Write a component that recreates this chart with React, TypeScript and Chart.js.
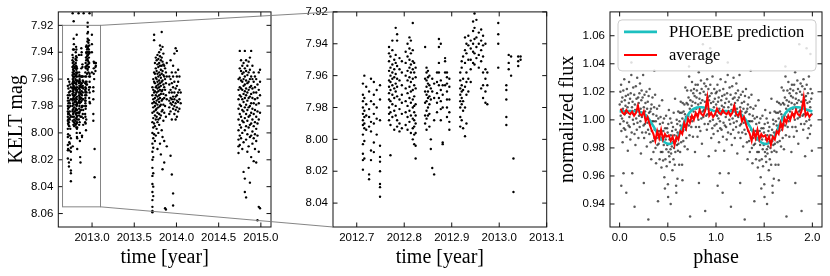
import React, { useEffect, useRef } from 'react';
import { Chart, registerables } from 'chart.js';
Chart.register(...registerables);

// ---------------- DATA ----------------
// KELT light curve, first season (also shown in the zoomed middle panel): [time, [mags...]]
const season1: [number, number[]][] = [
  [2012.713, [7.965, 7.972, 7.976, 7.980, 7.984, 7.988, 7.991, 7.997, 8.003, 8.009, 8.013, 8.019]],
  [2012.716, [7.960, 7.974, 7.982, 7.986, 7.990, 7.993, 8.001, 8.012]],
  [2012.720, [7.967, 7.978, 7.985, 7.994]],
  [2012.726, [7.970, 7.981, 7.986, 7.992, 8.022, 8.025]],
  [2012.730, [7.962, 7.976, 7.989, 7.995, 8.007, 8.013]],
  [2012.736, [7.964, 7.972, 7.978, 7.984, 7.990, 8.002, 8.008]],
  [2012.742, [7.969, 7.980, 7.987, 7.997]],
  [2012.749, [7.966, 7.975, 7.988, 8.004, 8.011, 8.014, 8.020, 8.028, 8.030, 8.036]],
  [2012.768, [7.942, 7.946, 7.951, 7.957, 7.963, 7.967, 7.971, 7.975, 7.980, 7.984, 7.988]],
  [2012.770, [7.911]],
  [2012.771, [7.948, 7.955, 7.960, 7.964, 7.969, 7.976, 7.983, 7.991, 8.010]],
  [2012.775, [7.938, 7.944, 7.953, 7.958, 7.962, 7.966, 7.972, 7.978, 7.986]],
  [2012.779, [7.950, 7.956, 7.961, 7.968, 7.974, 7.982, 7.994]],
  [2012.782, [7.917, 7.930, 7.947, 7.952, 7.959, 7.965, 7.970, 7.979, 7.985]],
  [2012.785, [7.934, 7.938, 7.954, 7.962, 7.967, 7.973, 7.988, 7.992]],
  [2012.790, [7.949, 7.956, 7.963, 7.975, 7.981, 7.990, 7.995]],
  [2012.795, [7.951, 7.958, 7.966, 7.972, 7.977, 7.984, 7.993]],
  [2012.803, [7.945, 7.952, 7.960, 7.968, 7.976, 7.983, 7.991]],
  [2012.807, [7.940, 7.948, 7.957, 7.963, 7.971, 7.979, 7.986, 7.994]],
  [2012.811, [7.936, 7.943, 7.950, 7.955, 7.961, 7.967, 7.974, 7.982, 7.989]],
  [2012.814, [7.938, 7.946, 7.953, 7.958, 7.964, 7.970, 7.977, 7.985, 7.996]],
  [2012.818, [7.927, 7.944, 7.951, 7.956, 7.962, 7.969, 7.975, 7.980, 7.987, 7.993, 8.000]],
  [2012.821, [7.952, 7.958, 7.966, 7.973, 7.979, 7.983, 7.988, 7.992, 7.997, 8.003]],
  [2012.824, [7.955, 7.961, 7.968, 7.978, 7.985, 7.990, 7.996, 8.004, 8.012]],
  [2012.840, [7.911]],
  [2012.844, [7.942, 7.962, 7.970, 7.977, 7.985, 7.990]],
  [2012.847, [7.955, 7.958, 7.963, 7.967, 7.972, 7.976, 7.982, 7.987, 7.994]],
  [2012.850, [7.957, 7.961, 7.965, 7.970, 7.974, 7.980, 7.985]],
  [2012.853, [7.960, 7.966, 7.973, 7.978, 7.984, 7.992]],
  [2012.856, [7.968, 7.975, 8.000, 8.006]],
  [2012.859, [7.962, 7.970, 8.018]],
  [2012.863, [7.965, 7.974, 7.988, 8.022]],
  [2012.869, [7.958, 7.964, 7.971, 7.977, 7.983]],
  [2012.873, [7.937, 7.942, 7.952, 7.958, 7.966, 7.974]],
  [2012.877, [7.940, 7.963, 7.969, 7.976, 7.981, 7.988]],
  [2012.881, [7.966, 7.972, 7.980, 8.002, 8.003]],
  [2012.886, [7.949, 7.951, 7.958, 7.966]],
  [2012.890, [7.958, 7.961, 7.965, 7.970, 7.975, 7.980, 7.986]],
  [2012.895, [7.962, 7.967, 7.975, 7.983, 7.989, 7.994]],
  [2012.900, [7.911]],
  [2012.918, [7.958, 7.963, 7.968, 7.972, 7.976, 7.980, 7.986, 7.992]],
  [2012.921, [7.951, 7.955, 7.966, 7.970, 7.974, 7.978, 7.988]],
  [2012.924, [7.948, 7.962, 7.969, 7.976, 7.982, 7.993]],
  [2012.928, [7.936, 7.944, 7.952, 7.967, 7.980, 7.998]],
  [2012.931, [7.940, 7.946, 7.958, 7.964, 7.972, 7.990]],
  [2012.935, [7.935, 7.941, 7.950, 7.962, 7.970]],
  [2012.940, [7.938, 7.943, 7.950, 7.956, 7.964]],
  [2012.945, [7.926, 7.932, 7.940, 7.945, 7.952]],
  [2012.948, [7.918, 7.921, 7.930, 7.937, 7.946, 7.953]],
  [2012.952, [7.925, 7.936, 7.942, 7.949]],
  [2012.957, [7.933, 7.940, 7.947, 7.955]],
  [2012.962, [7.931, 7.938, 7.944, 7.951, 7.968]],
  [2012.966, [7.935, 7.941, 7.948, 7.958, 7.966, 7.974]],
  [2012.970, [7.911]],
  [2012.971, [7.940, 7.956, 7.962, 7.970, 7.977]],
  [2012.975, [7.958, 7.966, 7.978]],
  [2012.998, [7.927, 7.934, 7.940, 7.955]],
  [2013.015, [7.966, 7.969, 7.975, 7.986, 7.991]],
  [2013.020, [7.947, 7.952, 7.956]],
  [2013.025, [7.948, 7.960]],
  [2013.030, [8.012, 8.033]],
  [2013.040, [7.948, 7.951, 7.954]],
  [2013.045, [7.948, 7.950]],
];

const season2: [number, number[]][] = [
  [2013.715, [7.966, 7.972, 7.978, 7.985, 7.992, 8.000, 8.008, 8.014, 8.020, 8.026, 8.032, 8.038, 8.044, 8.050, 8.055, 8.058, 8.059]],
  [2013.725, [7.960, 7.968, 7.975, 7.981, 7.989, 7.996, 8.004, 8.011, 8.018, 8.030, 8.040, 8.047]],
  [2013.735, [7.927, 7.931, 7.955, 7.962, 7.970, 7.977, 7.984, 7.993, 8.001]],
  [2013.745, [7.948, 7.956, 7.963, 7.969, 7.974, 7.980, 7.987, 7.995, 8.006]],
  [2013.755, [7.944, 7.952, 7.959, 7.966, 7.972, 7.978, 7.983, 7.990, 8.002]],
  [2013.765, [7.946, 7.954, 7.960, 7.965, 7.970, 7.976, 7.982, 7.988, 7.997]],
  [2013.775, [7.942, 7.949, 7.956, 7.962, 7.967, 7.973, 7.979, 7.985, 7.992, 8.012]],
  [2013.785, [7.945, 7.951, 7.958, 7.964, 7.969, 7.975, 7.981, 7.990, 8.000]],
  [2013.795, [7.940, 7.948, 7.955, 7.961, 7.966, 7.972, 7.977, 7.986, 7.994]],
  [2013.805, [7.935, 7.943, 7.950, 7.957, 7.963, 7.968, 7.974, 7.980, 7.989, 8.008]],
  [2013.815, [7.938, 7.946, 7.953, 7.959, 7.965, 7.971, 7.979, 7.987, 8.016]],
  [2013.825, [7.925, 7.944, 7.950, 7.956, 7.962, 7.969, 7.976, 7.984, 7.998]],
  [2013.835, [7.936, 7.947, 7.954, 7.961, 7.968, 7.975, 7.983, 8.003, 8.027]],
  [2013.845, [7.941, 7.949, 7.957, 7.964, 7.971, 7.979, 7.991]],
  [2013.855, [7.950, 7.958, 7.966, 7.974, 7.985, 8.006, 8.022]],
  [2013.865, [7.952, 7.960, 7.968, 7.980, 8.056]],
  [2013.875, [7.955, 7.963, 7.972, 7.988, 8.057]],
  [2013.885, [7.948, 7.958, 7.975, 8.010]],
  [2013.915, [7.958, 7.964, 7.970, 7.976, 7.981, 7.986]],
  [2013.930, [7.946, 7.960, 7.968, 7.974, 7.978, 7.984, 8.017]],
  [2013.945, [7.955, 7.963, 7.970, 7.975, 7.979, 7.990, 8.031]],
  [2013.960, [7.950, 7.958, 7.966, 7.973, 7.977, 7.982, 8.045, 8.054]],
  [2013.975, [7.941, 7.962, 7.970, 7.975, 7.980, 7.986]],
  [2013.990, [7.937, 7.955, 7.967, 7.973, 7.978, 7.983, 7.990]],
  [2014.005, [7.939, 7.958, 7.965, 7.972, 7.976, 7.981, 7.988]],
  [2014.020, [7.953, 7.962, 7.970, 7.977, 7.984]],
  [2014.035, [7.958, 7.968, 7.975, 7.982]],
  [2014.050, [7.970, 7.978]],
];

const season3: [number, number[]][] = [
  [2014.735, [7.960, 7.968, 7.975, 7.982, 7.990, 7.998, 8.005, 8.010, 8.015]],
  [2014.750, [7.939, 7.952, 7.959, 7.966, 7.972, 7.979, 7.986, 7.994, 8.002, 8.009]],
  [2014.765, [7.946, 7.954, 7.961, 7.967, 7.973, 7.980, 7.988, 7.996, 8.004]],
  [2014.780, [7.950, 7.956, 7.962, 7.968, 7.975, 7.983, 7.991, 8.000, 8.012]],
  [2014.795, [7.948, 7.955, 7.960, 7.965, 7.971, 7.977, 7.984, 7.992, 8.007, 8.029]],
  [2014.810, [7.939, 7.952, 7.958, 7.964, 7.969, 7.974, 7.981, 7.989, 7.998, 8.034, 8.044]],
  [2014.825, [7.946, 7.954, 7.961, 7.967, 7.972, 7.979, 7.986, 7.995, 8.005, 8.048]],
  [2014.840, [7.950, 7.957, 7.963, 7.970, 7.976, 7.983, 7.991, 8.001, 8.014]],
  [2014.855, [7.947, 7.955, 7.962, 7.968, 7.974, 7.981, 7.988, 7.996, 8.010, 8.026]],
  [2014.870, [7.944, 7.953, 7.960, 7.966, 7.973, 7.980, 7.987, 7.994, 8.003, 8.037]],
  [2014.885, [7.939, 7.958, 7.965, 7.971, 7.978, 7.985, 7.993, 8.002, 8.018]],
  [2014.900, [7.950, 7.960, 7.967, 7.974, 7.982, 7.990, 7.999, 8.008]],
  [2014.915, [7.955, 7.962, 7.970, 7.978, 7.986, 7.995, 8.004, 8.021]],
  [2014.930, [7.958, 7.966, 7.975, 7.983, 7.992, 8.001, 8.012]],
  [2014.945, [7.960, 7.970, 7.979, 7.988, 7.997, 8.006, 8.022]],
  [2014.960, [7.964, 7.974, 7.984, 7.993, 8.002, 8.065]],
  [2014.975, [7.955, 7.968, 7.978, 7.990, 8.014, 8.055]],
  [2014.990, [7.953, 7.962, 7.972, 7.985, 8.056]],
];

// Phase-folded normalized flux, phase 0..1: [phase, flux]
const phaseFold: [number, number][] = [
  [0.001,1.011],[0.005,0.997],[0.008,1.020],[0.011,1.003],[0.015,1.025],[0.018,0.992],[0.021,1.013],[0.025,1.001],[0.028,1.016],[0.031,0.984],
  [0.034,1.008],[0.038,1.021],[0.041,0.999],[0.044,0.994],[0.048,1.029],[0.051,1.004],[0.054,1.014],[0.058,0.993],[0.061,1.010],[0.064,1.017],
  [0.068,1.005],[0.072,0.988],[0.075,1.022],[0.078,0.998],[0.082,1.009],[0.085,0.978],[0.088,1.018],[0.092,0.996],[0.095,1.012],[0.098,1.027],
  [0.101,1.002],[0.105,0.995],[0.108,1.015],[0.111,0.986],[0.115,1.019],[0.118,1.006],[0.121,1.032],[0.125,0.991],[0.128,1.009],[0.131,0.962],
  [0.134,1.013],[0.138,1.000],[0.141,1.023],[0.144,1.004],[0.148,0.997],[0.151,1.018],[0.154,0.990],[0.158,1.011],[0.161,1.007],[0.164,0.982],
  [0.168,1.024],[0.172,1.001],[0.175,1.015],[0.178,0.993],[0.182,1.030],[0.185,0.998],[0.188,1.010],[0.192,1.016],[0.195,0.987],[0.198,1.012],
  [0.201,1.003],[0.205,1.019],[0.208,0.995],[0.211,1.026],[0.215,0.999],[0.218,1.008],[0.221,0.976],[0.225,1.014],[0.228,1.021],[0.231,1.002],
  [0.234,0.991],[0.238,1.016],[0.241,1.004],[0.244,1.032],[0.248,0.996],[0.251,1.009],[0.254,0.987],[0.258,1.018],[0.261,0.997],[0.264,1.006],
  [0.268,1.012],[0.272,0.991],[0.275,1.003],[0.278,1.020],[0.282,0.981],[0.285,1.008],[0.288,0.998],[0.292,1.013],[0.295,0.993],[0.298,0.929],
  [0.301,1.017],[0.305,1.005],[0.308,0.990],[0.311,1.022],[0.315,0.997],[0.318,1.006],[0.321,0.984],[0.325,1.008],[0.328,0.972],[0.331,1.011],
  [0.334,0.992],[0.338,0.999],[0.341,1.016],[0.344,0.985],[0.348,1.004],[0.351,0.977],[0.354,0.999],[0.358,1.009],[0.361,0.987],[0.364,0.993],
  [0.368,1.018],[0.372,0.980],[0.375,0.999],[0.378,0.969],[0.382,1.003],[0.385,0.987],[0.388,1.008],[0.392,0.982],[0.395,0.990],[0.398,0.942],
  [0.401,1.001],[0.405,0.983],[0.408,0.992],[0.411,1.010],[0.415,0.972],[0.418,0.997],[0.421,0.986],[0.425,1.002],[0.428,0.977],[0.431,0.992],
  [0.434,0.966],[0.438,0.987],[0.441,1.014],[0.444,0.977],[0.448,0.998],[0.451,0.971],[0.454,0.992],[0.458,0.982],[0.461,1.001],[0.464,0.959],
  [0.468,0.988],[0.472,0.994],[0.475,0.972],[0.478,0.986],[0.482,1.003],[0.485,0.979],[0.488,0.967],[0.492,0.994],[0.495,0.982],[0.498,0.991],
  [0.501,0.954],[0.505,0.997],[0.508,0.977],[0.511,1.007],[0.515,0.974],[0.518,0.986],[0.521,0.970],[0.525,1.001],[0.528,0.979],[0.531,0.989],
  [0.534,0.976],[0.538,0.998],[0.541,0.981],[0.544,0.992],[0.548,0.964],[0.551,0.984],[0.554,0.995],[0.558,0.972],[0.561,1.005],[0.564,0.980],
  [0.568,0.989],[0.572,0.968],[0.575,1.015],[0.578,0.977],[0.582,0.993],[0.585,0.985],[0.588,0.948],[0.592,1.000],[0.595,0.982],[0.598,0.997],
  [0.601,0.991],[0.605,0.978],[0.608,1.006],[0.611,0.983],[0.615,0.990],[0.618,0.968],[0.621,0.999],[0.625,1.005],[0.628,0.977],[0.631,0.996],
  [0.634,1.013],[0.638,0.984],[0.641,0.992],[0.644,1.005],[0.648,0.968],[0.651,1.001],[0.654,1.012],[0.658,0.992],[0.661,0.985],[0.664,1.006],
  [0.668,0.995],[0.672,1.011],[0.675,0.981],[0.678,1.004],[0.682,1.023],[0.685,0.993],[0.688,1.002],[0.692,0.987],[0.695,1.012],[0.698,0.997],
  [0.701,1.021],[0.705,0.979],[0.708,1.011],[0.711,1.003],[0.715,1.016],[0.718,0.996],[0.721,1.031],[0.725,0.989],[0.728,1.008],[0.731,0.931],
  [0.734,1.014],[0.738,1.002],[0.741,1.021],[0.744,0.995],[0.748,1.010],[0.751,1.027],[0.754,0.999],[0.758,1.013],[0.761,0.988],[0.764,1.019],
  [0.768,1.006],[0.772,1.022],[0.775,1.002],[0.778,1.017],[0.782,0.977],[0.785,1.012],[0.788,1.025],[0.792,0.995],[0.795,1.008],[0.798,1.016],
  [0.801,1.021],[0.805,1.004],[0.808,0.988],[0.811,1.025],[0.815,1.011],[0.818,1.000],[0.821,1.034],[0.825,0.995],[0.828,1.015],[0.831,1.008],
  [0.834,1.019],[0.838,0.992],[0.841,1.012],[0.844,1.028],[0.848,1.001],[0.851,1.022],[0.854,0.983],[0.858,1.014],[0.861,1.006],[0.864,1.054],
  [0.868,1.002],[0.872,1.020],[0.875,1.007],[0.878,1.026],[0.882,0.997],[0.885,1.013],[0.888,0.935],[0.892,1.018],[0.895,1.024],[0.898,1.003],
  [0.901,1.010],[0.905,0.993],[0.908,1.029],[0.911,1.004],[0.915,1.016],[0.918,0.997],[0.921,1.022],[0.925,0.974],[0.928,1.014],[0.931,1.007],
  [0.934,1.017],[0.938,0.999],[0.941,1.025],[0.944,1.004],[0.948,1.012],[0.951,0.987],[0.954,1.019],[0.958,1.007],[0.961,0.994],[0.964,1.031],
  [0.968,1.000],[0.972,1.013],[0.975,0.990],[0.978,1.009],[0.982,1.022],[0.985,0.996],[0.988,1.015],[0.992,1.004],[0.995,0.978],[0.998,1.019],
  [0.017,0.953],[0.069,0.948],[0.155,0.938],[0.251,0.955],[0.503,0.945],[0.586,0.953],[0.600,0.958],[0.652,0.957],[0.823,0.955],
  [0.940,1.051],[0.980,1.047],[0.122,1.041],[0.360,1.035],[0.720,1.038],[0.040,0.962],[0.470,0.951],[0.530,0.940],
];

// PHOEBE model prediction (phase 0..1)
const phoebePhase = [0, 0.05, 0.1, 0.15, 0.2, 0.25, 0.3, 0.35, 0.4, 0.45, 0.5, 0.55, 0.6, 0.65, 0.7, 0.75, 0.8, 0.85, 0.9, 0.95, 1.0];
const phoebeFlux = [1.006, 1.0062, 1.0063, 1.0062, 1.006, 1.0045, 1.001, 0.9955, 0.9895, 0.985, 0.983, 0.9835, 0.9875, 0.995, 1.0025, 1.007, 1.0088, 1.009, 1.0083, 1.007, 1.006];

// binned average (phase 0..1)
const avgPhase = [0.01,0.03,0.05,0.07,0.09,0.11,0.13,0.15,0.17,0.19,0.21,0.23,0.25,0.27,0.29,0.31,0.33,0.35,0.37,0.39,0.41,0.43,0.45,0.47,0.49,
  0.51,0.53,0.55,0.57,0.59,0.61,0.63,0.65,0.67,0.69,0.71,0.73,0.75,0.77,0.79,0.81,0.83,0.85,0.87,0.89,0.91,0.93,0.95,0.97,0.99];
const avgFlux = [1.008,1.005,1.004,1.007,1.005,1.004,1.006,1.003,1.005,1.010,1.004,1.003,1.006,0.999,1.002,0.997,0.993,0.990,0.985,0.992,0.987,0.993,0.986,0.990,0.988,
  0.989,0.985,0.988,0.982,0.988,0.986,0.992,0.990,0.998,0.994,1.001,0.998,1.003,1.000,1.005,1.002,1.007,1.004,1.003,1.007,1.016,1.003,1.005,1.002,1.004];

const legendLabels = ['PHOEBE prediction', 'average'];

// axis ranges and ticks
const overviewX = [2012.6, 2015.12];
const overviewY = [7.91, 8.07];
const zoomX = [2012.65, 2013.1];
const zoomY = [7.92, 8.055];
const phaseX = [-0.1, 2.1];
const phaseY = [0.9236, 1.077];
const overviewXTicks = [2013.0, 2013.5, 2014.0, 2014.5, 2015.0];
const overviewYTicks = [7.92, 7.94, 7.96, 7.98, 8.00, 8.02, 8.04, 8.06];
const zoomXTicks = [2012.7, 2012.8, 2012.9, 2013.0, 2013.1];
const zoomYTicks = [7.92, 7.94, 7.96, 7.98, 8.00, 8.02, 8.04];
const phaseXTicks = [0.0, 0.5, 1.0, 1.5, 2.0];
const phaseYTicks = [0.94, 0.96, 0.98, 1.00, 1.02, 1.04, 1.06];

// ---------------- LAYOUT ----------------
const W = 830, H = 276;
const YW = 50, XH = 40;
const TICK_FONT = { family: "'Liberation Sans', Arial, sans-serif", size: 11.5 };
const SERIF = "'Liberation Serif', 'Times New Roman', serif";

const flatten = (s: [number, number[]][]) => {
  const out: { x: number; y: number }[] = [];
  s.forEach(([t, ms]) => ms.forEach((m) => out.push({ x: t, y: m })));
  return out;
};

type Area = { left: number; right: number; top: number; bottom: number };

const framePlugin = {
  id: 'frameTicks',
  afterDraw(chart: any) {
    const { ctx, chartArea: a, scales } = chart;
    const L = 4.5;
    ctx.save();
    ctx.strokeStyle = '#111';
    ctx.lineWidth = 1;
    ctx.strokeRect(a.left, a.top, a.right - a.left, a.bottom - a.top);
    ctx.beginPath();
    scales.x.ticks.forEach((t: any) => {
      const px = scales.x.getPixelForValue(t.value);
      ctx.moveTo(px, a.bottom); ctx.lineTo(px, a.bottom - L);
      ctx.moveTo(px, a.top); ctx.lineTo(px, a.top + L);
    });
    scales.y.ticks.forEach((t: any) => {
      const py = scales.y.getPixelForValue(t.value);
      ctx.moveTo(a.left, py); ctx.lineTo(a.left + L, py);
      ctx.moveTo(a.right, py); ctx.lineTo(a.right - L, py);
    });
    ctx.stroke();
    ctx.restore();
  },
};

const titlePlugin = {
  id: 'axisTitles',
  afterDraw(chart: any, _args: any, opts: any) {
    const { ctx, chartArea: a } = chart;
    ctx.save();
    ctx.fillStyle = '#000';
    ctx.font = `20px ${SERIF}`;
    ctx.textAlign = 'center';
    ctx.textBaseline = 'alphabetic';
    if (opts.x) ctx.fillText(opts.x, (a.left + a.right) / 2, a.bottom + opts.xOffset);
    if (opts.y) {
      ctx.translate(a.left - opts.yOffset, (a.top + a.bottom) / 2);
      ctx.rotate(-Math.PI / 2);
      ctx.fillText(opts.y, 0, 0);
    }
    ctx.restore();
  },
};

function makeOptions(area: Area, xr: number[], yr: number[], xt: number[], yt: number[], xd: number, yd: number, reverse: boolean, titles: any) {
  return {
    responsive: false,
    animation: false as const,
    events: [] as any[],
    layout: { padding: { left: area.left - YW, right: W - area.right, top: area.top, bottom: H - area.bottom - XH } },
    plugins: { legend: { display: false }, tooltip: { enabled: false }, axisTitles: titles },
    scales: {
      x: {
        type: 'linear' as const, position: 'bottom' as const, min: xr[0], max: xr[1],
        grid: { display: false, drawTicks: false }, border: { display: false },
        ticks: { font: TICK_FONT, color: '#000', padding: 4, maxRotation: 0, autoSkip: false, callback: (v: any) => Number(v).toFixed(xd) },
        afterBuildTicks: (s: any) => { s.ticks = xt.map((value) => ({ value })); },
        afterFit: (s: any) => { s.height = XH; },
      },
      y: {
        type: 'linear' as const, position: 'left' as const, min: yr[0], max: yr[1], reverse,
        grid: { display: false, drawTicks: false }, border: { display: false },
        ticks: { font: TICK_FONT, color: '#000', padding: 5, autoSkip: false, callback: (v: any) => Number(v).toFixed(yd) },
        afterBuildTicks: (s: any) => { s.ticks = yt.map((value) => ({ value })); },
        afterFit: (s: any) => { s.width = YW; },
      },
    },
  };
}

const AREA1: Area = { left: 58.3, right: 271, top: 11, bottom: 227 };
const AREA2: Area = { left: 333, right: 546.7, top: 11, bottom: 227 };
const AREA3: Area = { left: 610, right: 822, top: 11, bottom: 227 };

export default function App() {
  const r1 = useRef<HTMLCanvasElement>(null);
  const r2 = useRef<HTMLCanvasElement>(null);
  const r3 = useRef<HTMLCanvasElement>(null);

  useEffect(() => {
    const s1 = flatten(season1);
    const allPts = [...s1, ...flatten(season2), ...flatten(season3)];

    const c1 = new Chart(r1.current as HTMLCanvasElement, {
      type: 'scatter',
      data: { datasets: [{ data: allPts, pointRadius: 1.2, pointBorderWidth: 0, pointBackgroundColor: '#000', clip: 0 } as any] },
      options: makeOptions(AREA1, overviewX, overviewY, overviewXTicks, overviewYTicks, 1, 2, true,
        { x: 'time [year]', xOffset: 36, y: 'KELT mag', yOffset: 36.3 }) as any,
      plugins: [framePlugin, titlePlugin],
    });

    const connectorPlugin = {
      id: 'connector',
      afterDraw(chart: any) {
        const { ctx, chartArea: a } = chart;
        const sx = c1.scales.x, sy = c1.scales.y;
        const xl = sx.getPixelForValue(zoomX[0]);
        const xr = sx.getPixelForValue(zoomX[1]);
        const yt = sy.getPixelForValue(zoomY[0]);
        const yb = sy.getPixelForValue(zoomY[1]);
        ctx.save();
        ctx.strokeStyle = 'rgba(120,120,120,0.9)';
        ctx.lineWidth = 1;
        ctx.strokeRect(xl, yt, xr - xl, yb - yt);
        ctx.beginPath();
        ctx.moveTo(xr, yt); ctx.lineTo(a.left, a.top);
        ctx.moveTo(xr, yb); ctx.lineTo(a.left, a.bottom);
        ctx.stroke();
        ctx.restore();
      },
    };

    const c2 = new Chart(r2.current as HTMLCanvasElement, {
      type: 'scatter',
      data: { datasets: [{ data: s1, pointRadius: 1.2, pointBorderWidth: 0, pointBackgroundColor: '#000', clip: 0 } as any] },
      options: makeOptions(AREA2, zoomX, zoomY, zoomXTicks, zoomYTicks, 1, 2, true,
        { x: 'time [year]', xOffset: 36 }) as any,
      plugins: [framePlugin, titlePlugin, connectorPlugin],
    });

    const folded = [
      ...phaseFold.map(([p, f]) => ({ x: p, y: f })),
      ...phaseFold.map(([p, f]) => ({ x: p + 1, y: f })),
    ];
    const phoebe = [
      ...phoebePhase.map((p, i) => ({ x: p, y: phoebeFlux[i] })),
      ...phoebePhase.slice(1).map((p, i) => ({ x: p + 1, y: phoebeFlux[i + 1] })),
    ];
    const avg = [
      ...avgPhase.map((p, i) => ({ x: p, y: avgFlux[i] })),
      ...avgPhase.map((p, i) => ({ x: p + 1, y: avgFlux[i] })),
    ];

    const legendPlugin = {
      id: 'legendBox',
      afterDatasetsDraw(chart: any) {
        const { ctx, chartArea: a } = chart;
        const x0 = a.left + 8, y0 = a.top + 8, w = a.right - 6 - x0, h = 51;
        ctx.save();
        ctx.fillStyle = 'rgba(255,255,255,0.8)';
        ctx.strokeStyle = 'rgba(204,204,204,1)';
        ctx.lineWidth = 1;
        ctx.beginPath();
        (ctx as any).roundRect(x0, y0, w, h, 4);
        ctx.fill();
        ctx.stroke();
        legendLabels.forEach((lab, i) => {
          const d: any = chart.data.datasets.find((ds: any) => ds.label === lab);
          const y = y0 + 12 + i * 23;
          ctx.strokeStyle = d.borderColor;
          ctx.lineWidth = d.borderWidth;
          ctx.beginPath();
          ctx.moveTo(x0 + 6, y); ctx.lineTo(x0 + 39, y);
          ctx.stroke();
          ctx.fillStyle = '#000';
          ctx.font = `16.5px ${SERIF}`;
          ctx.textBaseline = 'alphabetic';
          ctx.textAlign = 'left';
          ctx.fillText(lab, x0 + 51, y + 5.5);
        });
        ctx.restore();
      },
    };

    const c3 = new Chart(r3.current as HTMLCanvasElement, {
      type: 'scatter',
      data: {
        datasets: [
          { label: 'average', data: avg, showLine: true, borderColor: '#ff0000', borderWidth: 2, pointRadius: 0, order: 0, clip: 0 } as any,
          { label: 'PHOEBE prediction', data: phoebe, showLine: true, borderColor: '#1cc0c0', borderWidth: 2.6, pointRadius: 0, tension: 0.3, order: 1, clip: 0 } as any,
          { label: 'data', data: folded, pointRadius: 1.25, pointBorderWidth: 0, pointBackgroundColor: 'rgba(10,10,10,0.68)', order: 2, clip: 0 } as any,
        ],
      },
      options: makeOptions(AREA3, phaseX, phaseY, phaseXTicks, phaseYTicks, 1, 2, false,
        { x: 'phase', xOffset: 36, y: 'normalized flux', yOffset: 37 }) as any,
      plugins: [framePlugin, titlePlugin, legendPlugin],
    });

    return () => { c1.destroy(); c2.destroy(); c3.destroy(); };
  }, []);

  const cs: React.CSSProperties = { position: 'absolute', left: 0, top: 0, width: W, height: H };
  return (
    <div style={{ position: 'absolute', left: 0, top: 0, width: W, height: H, background: '#fff', overflow: 'hidden' }}>
      <canvas ref={r1} width={W} height={H} style={cs} />
      <canvas ref={r2} width={W} height={H} style={cs} />
      <canvas ref={r3} width={W} height={H} style={cs} />
    </div>
  );
}
